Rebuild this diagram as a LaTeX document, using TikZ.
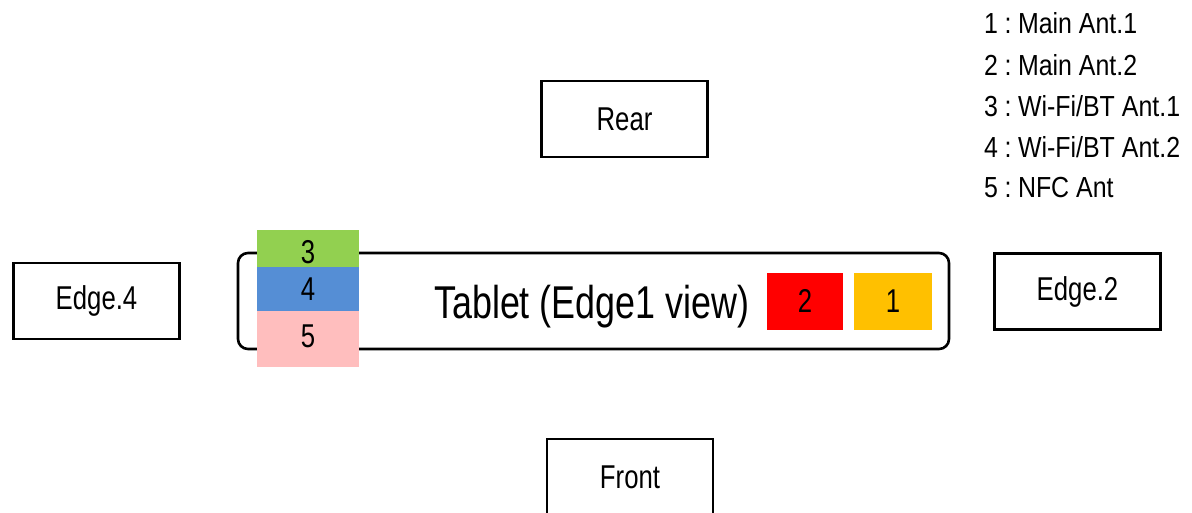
\documentclass[tikz,border=0pt]{standalone}
\usepackage{fontspec}
\setmainfont{Liberation Sans}[FakeStretch=0.78]
\newfontfamily\legendfont{Liberation Sans}[FakeStretch=0.86]
\newcommand\colsep{\kern6.5pt:\kern6.5pt}
\begin{document}
\begin{tikzpicture}[x=1pt,y=-1pt,
  viewbox/.style={draw=black,line width=2.6pt,fill=white,inner sep=0pt,
    minimum width=166pt,minimum height=76pt,font=\fontsize{33}{36}\selectfont},
  antbox/.style={inner sep=0pt,minimum width=102pt},
  antnum/.style={inner sep=0pt,font=\fontsize{33}{36}\selectfont},
  legend/.style={anchor=base west,inner sep=0pt,font=\legendfont\fontsize{29}{30}\selectfont}]
\useasboundingbox (0,0) rectangle (1192,512);

% view direction boxes
\node[viewbox] (rear)  at (624.5,119) {Rear};
\node[viewbox] (front) at (630,477)   {Front};
\node[viewbox] (edge4) at (96.5,301)  {Edge.4};
\node[viewbox] (edge2) at (1077.5,291.5) {Edge.2};

% tablet body seen from edge 1
\node[draw=black,line width=2.6pt,rounded corners=10pt,fill=white,
      minimum width=711pt,minimum height=96pt,inner sep=0pt] (tablet) at (593.5,301) {};
\node[anchor=base west,inner sep=0pt,font=\fontsize{46}{50}\selectfont]
      (title) at (434,318) {Tablet (Edge1 view)};

% antenna blocks
\node[antbox,fill={rgb,255:red,146;green,208;blue,80},minimum height=37pt] (a3) at (308,248.5) {};
\node[antbox,fill={rgb,255:red,85;green,142;blue,213},minimum height=44pt] (a4) at (308,289) {};
\node[antbox,fill={rgb,255:red,255;green,190;blue,190},minimum height=56pt] (a5) at (308,339) {};
\node[antnum] (n3) at (308,252.5) {3};
\node[antnum] (n4) at (308,289.5) {4};
\node[antnum] (n5) at (308,336.5) {5};

\node[antbox,fill=red,minimum width=76pt,minimum height=57pt] (a2) at (805,301) {};
\node[antbox,fill={rgb,255:red,255;green,192;blue,0},minimum width=78pt,minimum height=57pt] (a1) at (893,301) {};
\node[antnum] (n2) at (a2) {2};
\node[antnum] (n1) at (a1) {1};

% legend
\node[legend] (l1) at (984,33)  {1\colsep Main Ant.1};
\node[legend] (l2) at (984,75)  {2\colsep Main Ant.2};
\node[legend] (l3) at (984,116) {3\colsep Wi-Fi/BT Ant.1};
\node[legend] (l4) at (984,157) {4\colsep Wi-Fi/BT Ant.2};
\node[legend] (l5) at (984,197) {5\colsep NFC Ant};
\end{tikzpicture}
\end{document}
